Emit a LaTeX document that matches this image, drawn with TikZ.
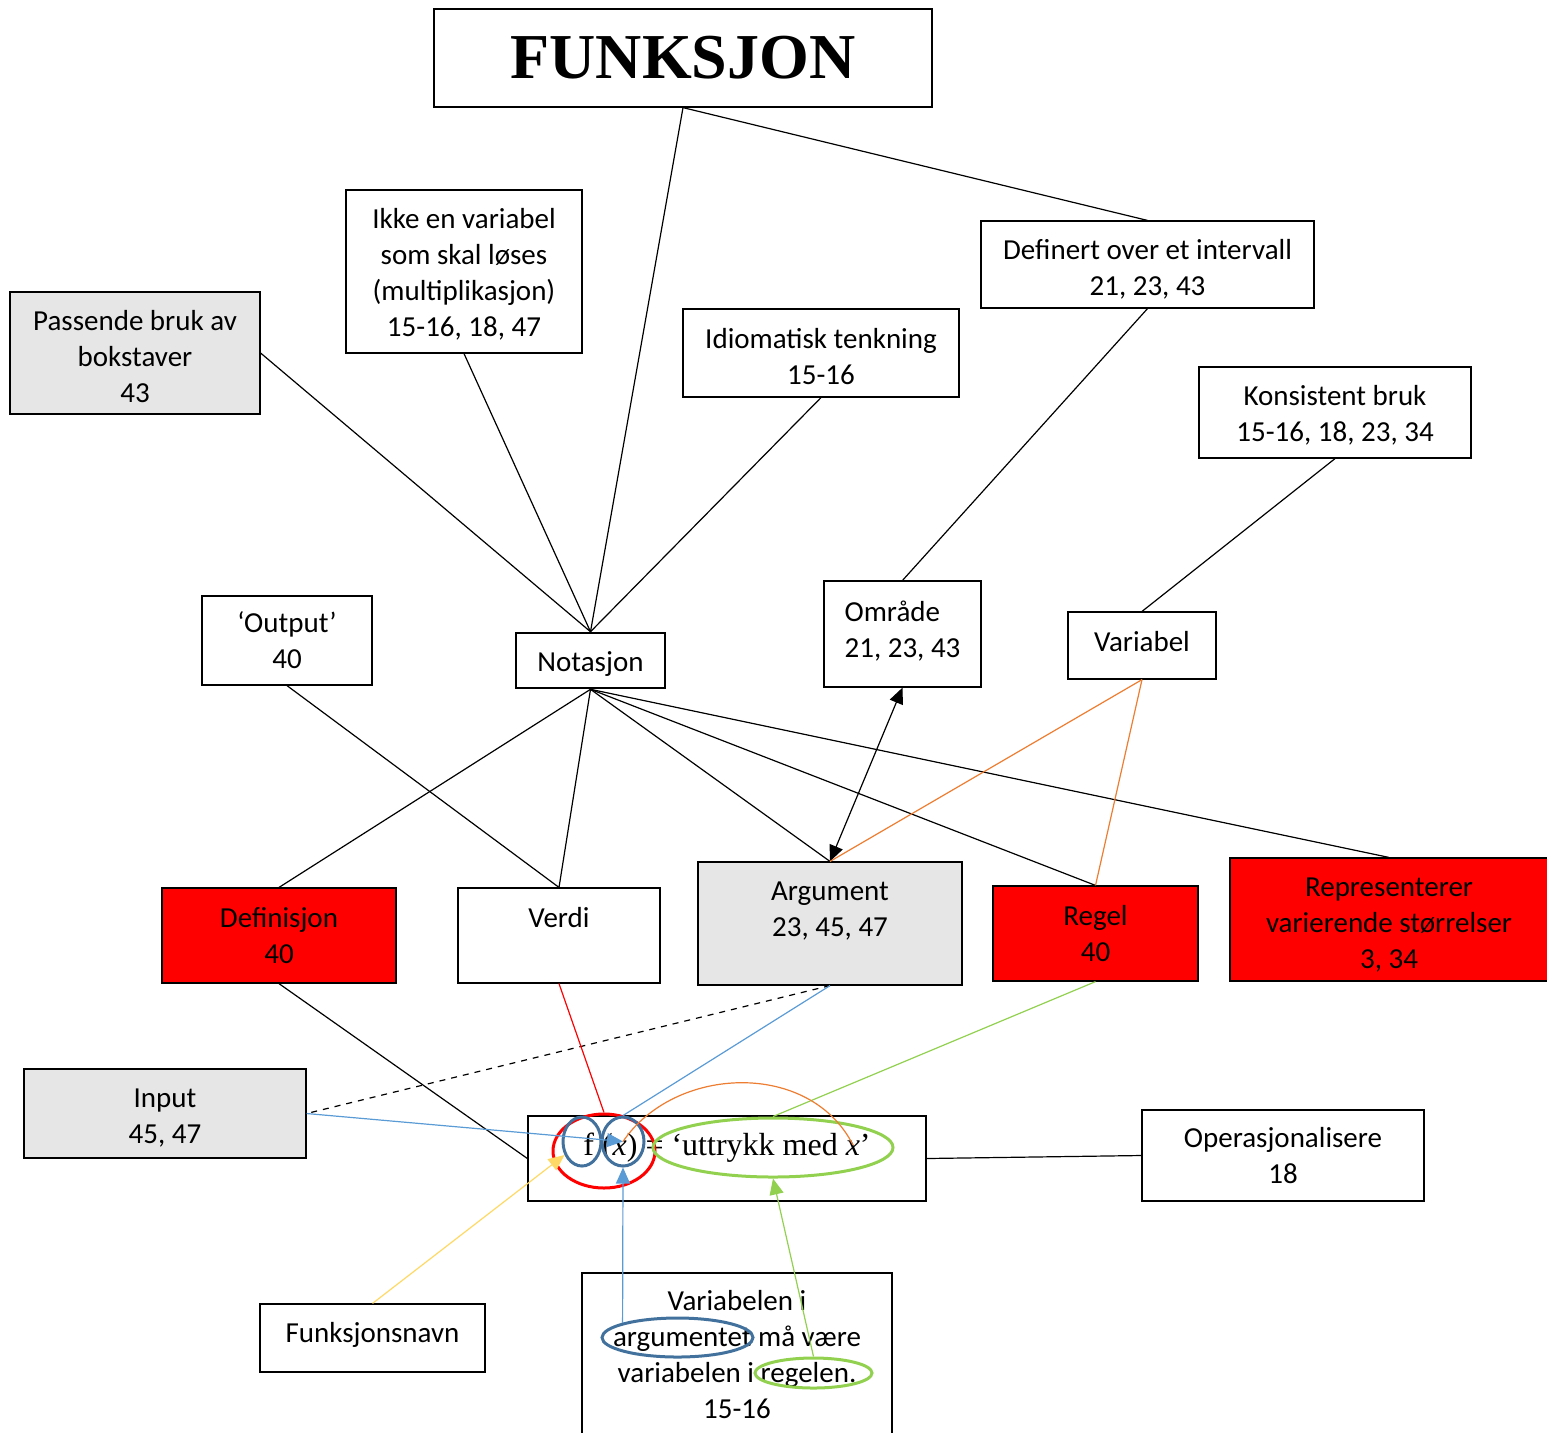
\documentclass[tikz,border=0pt]{standalone}
\usepackage{fontspec}
\setmainfont{Carlito}
\newfontfamily\tnr{Liberation Serif}
\usetikzlibrary{shapes.geometric,arrows.meta}
\definecolor{lysgraa}{HTML}{E6E6E6}
\definecolor{lysblaa}{HTML}{5B9BD5}
\definecolor{moerkblaa}{HTML}{41719C}
\definecolor{oransje}{HTML}{ED7D31}
\definecolor{lysgroenn}{HTML}{92D050}
\definecolor{gul}{HTML}{FFD966}
\newcommand{\ned}[1]{\rule{0pt}{#1}}

\begin{document}
\begin{tikzpicture}[x=0.5pt,y=-0.5pt,
  boks/.style={draw, line width=0.6pt, align=center, inner sep=2pt,
    font=\fontsize{14.5}{18}\selectfont},
  graaboks/.style={boks, fill=lysgraa},
  roedboks/.style={boks, fill=red},
  opp/.style={execute at end node={\rule[-#1]{0pt}{#1}}},
  ring/.style={ellipse, draw, line width=1.5pt, inner sep=0pt},
  pil/.style={-{Triangle[length=8pt,width=7pt]}}]
  \useasboundingbox (0,0) rectangle (1547,1432);

  \node[boks, minimum width=249pt, minimum height=49pt,
    font=\tnr\bfseries\fontsize{32}{38}\selectfont] (funksjon) at (683,58) {FUNKSJON};

  \node[graaboks, minimum width=125pt, minimum height=61pt] (passende) at (135,353)
    {\ned{14pt}Passende bruk av\\bokstaver\\43};
  \node[boks, minimum width=118pt, minimum height=81.5pt] (ikke) at (464,271.5)
    {\ned{13.2pt}Ikke en variabel\\som skal løses\\(multiplikasjon)\\15-16, 18, 47};
  \node[boks, minimum width=138pt, minimum height=44pt] (idiom) at (821,353)
    {\ned{13.2pt}Idiomatisk tenkning\\15-16};
  \node[boks, minimum width=166.5pt, minimum height=43.5pt] (definert) at (1147.5,264.5)
    {\ned{15pt}Definert over et intervall\\21, 23, 43};
  \node[boks, minimum width=136pt, minimum height=45.5pt] (konsistent) at (1335,412.5)
    {\ned{12.7pt}Konsistent bruk\\15-16, 18, 23, 34};

  \node[boks, minimum width=85pt, minimum height=44.5pt] (output) at (287,640.5)
    {‘Output’\\40};
  \node[boks, line width=1.3pt, minimum width=74.5pt, minimum height=27.5pt] (notasjon) at (590.5,660.5)
    {\ned{13.7pt}Notasjon};
  \node[boks, opp=5pt, align=left, minimum width=78.5pt, minimum height=53pt] (omraade) at (902.5,634)
    {Område\\21, 23, 43};
  \node[boks, opp=4pt, minimum width=74pt, minimum height=33.5pt] (variabel) at (1142,645.5)
    {Variabel};

  \node[roedboks, minimum width=117pt, minimum height=47.5pt] (definisjon) at (279,935.5)
    {Definisjon\\40};
  \node[boks, minimum width=101pt, minimum height=47.5pt] (verdi) at (559,935.5)
    {Verdi\\\mbox{}};
  \node[graaboks, minimum width=132pt, minimum height=61.5pt] (argument) at (830,923.5)
    {\ned{13.3pt}Argument\\23, 45, 47\\\mbox{}};
  \node[roedboks, minimum width=102.5pt, minimum height=47.5pt] (regel) at (1095.5,933.5)
    {Regel\\40};
  \node[roedboks, minimum width=159pt, minimum height=61.5pt] (representerer) at (1389,919.5)
    {\ned{15.3pt}Representerer\\varierende størrelser\\3, 34};

  \node[graaboks, minimum width=141pt, minimum height=44.5pt] (input) at (165,1113.5)
    {\ned{14.3pt}Input\\45, 47};
  \node[boks, inner sep=0pt, minimum width=199pt, text height=19.5pt, text depth=23pt,
    font=\tnr\fontsize{16}{19}\selectfont] (formel) at (727,1158.5)
    {f (\textit{x}) = ‘uttrykk med \textit{x}’};
  \node[boks, minimum width=141pt, minimum height=45.5pt] (operasjonalisere) at (1283,1155.5)
    {Operasjonalisere\\18};
  \node[boks, opp=5.9pt, minimum width=112.5pt, minimum height=34pt] (funksjonsnavn) at (372.5,1338)
    {Funksjonsnavn};
  \node[boks, minimum width=155pt, minimum height=82pt] (variabelen) at (737,1355)
    {Variabelen i\\argumentet må være\\variabelen i regelen.\\15-16};

  \node[ring, red, minimum width=51pt, minimum height=37pt] (roedring) at (604,1151) {};
  \node[ring, moerkblaa, minimum width=19pt, minimum height=24.5pt] (fring) at (582,1141.5) {};
  \node[ring, moerkblaa, minimum width=21pt, minimum height=24.5pt] (xring) at (623,1141.5) {};
  \node[ring, lysgroenn, minimum width=120pt, minimum height=29.5pt] (groennring) at (773,1147.5) {};
  \node[ring, moerkblaa, minimum width=75.5pt, minimum height=19.5pt] (argring) at (677.5,1337.5) {};
  \node[ring, lysgroenn, minimum width=58.5pt, minimum height=15pt] (regring) at (813.5,1373) {};
  \coordinate (xslutt) at (853,1145);

  \draw[line width=0.6pt] (funksjon.south) -- (notasjon.north);
  \draw[line width=0.6pt] (funksjon.south) -- (definert.north);
  \draw[line width=0.6pt] (passende.east) -- (notasjon.north);
  \draw[line width=0.6pt] (ikke.south) -- (notasjon.north);
  \draw[line width=0.6pt] (idiom.south) -- (notasjon.north);
  \draw[line width=0.6pt] (definert.south) -- (omraade.north);
  \draw[line width=0.6pt] (konsistent.south) -- (variabel.north);
  \draw[line width=0.6pt] (output.south) -- (verdi.north);

  \draw[line width=0.6pt] (notasjon.south) -- (definisjon.north);
  \draw[line width=0.6pt] (notasjon.south) -- (verdi.north);
  \draw[line width=0.6pt] (notasjon.south) -- (argument.north);
  \draw[line width=0.6pt] (notasjon.south) -- (regel.north);
  \draw[line width=0.6pt] (notasjon.south) -- (representerer.north);
  \draw[line width=0.6pt, {Triangle[length=8pt,width=7pt]}-{Triangle[length=8pt,width=7pt]}]
    (omraade.south) -- (argument.north);
  \draw[line width=0.6pt, oransje] (variabel.south) -- (argument.north);
  \draw[line width=0.6pt, oransje] (variabel.south) -- (regel.north);

  \draw[line width=0.6pt] (definisjon.south) -- (formel.west);
  \draw[line width=0.6pt, dashed] (argument.south) -- (input.east);
  \draw[line width=0.6pt] (formel.east) -- (operasjonalisere.west);
  \draw[line width=0.6pt, red] (verdi.south) -- (roedring.north);
  \draw[line width=0.6pt, lysblaa] (argument.south) -- (xring.north);
  \draw[line width=0.6pt, lysgroenn] (regel.south) -- (groennring.north);
  \draw[line width=0.6pt, lysblaa, pil] (input.east) -- (xring.center);
  \draw[line width=0.6pt, oransje] (xring.center) .. controls (675,1065) and (810,1060) .. (xslutt);

  \draw[line width=0.6pt, gul, pil] (funksjonsnavn.north) -- (fring);
  \draw[line width=0.6pt, lysblaa, pil] (argring.165) -- (xring.south);
  \draw[line width=0.6pt, lysgroenn, pil] (regring.north) -- (groennring.south);
\end{tikzpicture}
\end{document}
